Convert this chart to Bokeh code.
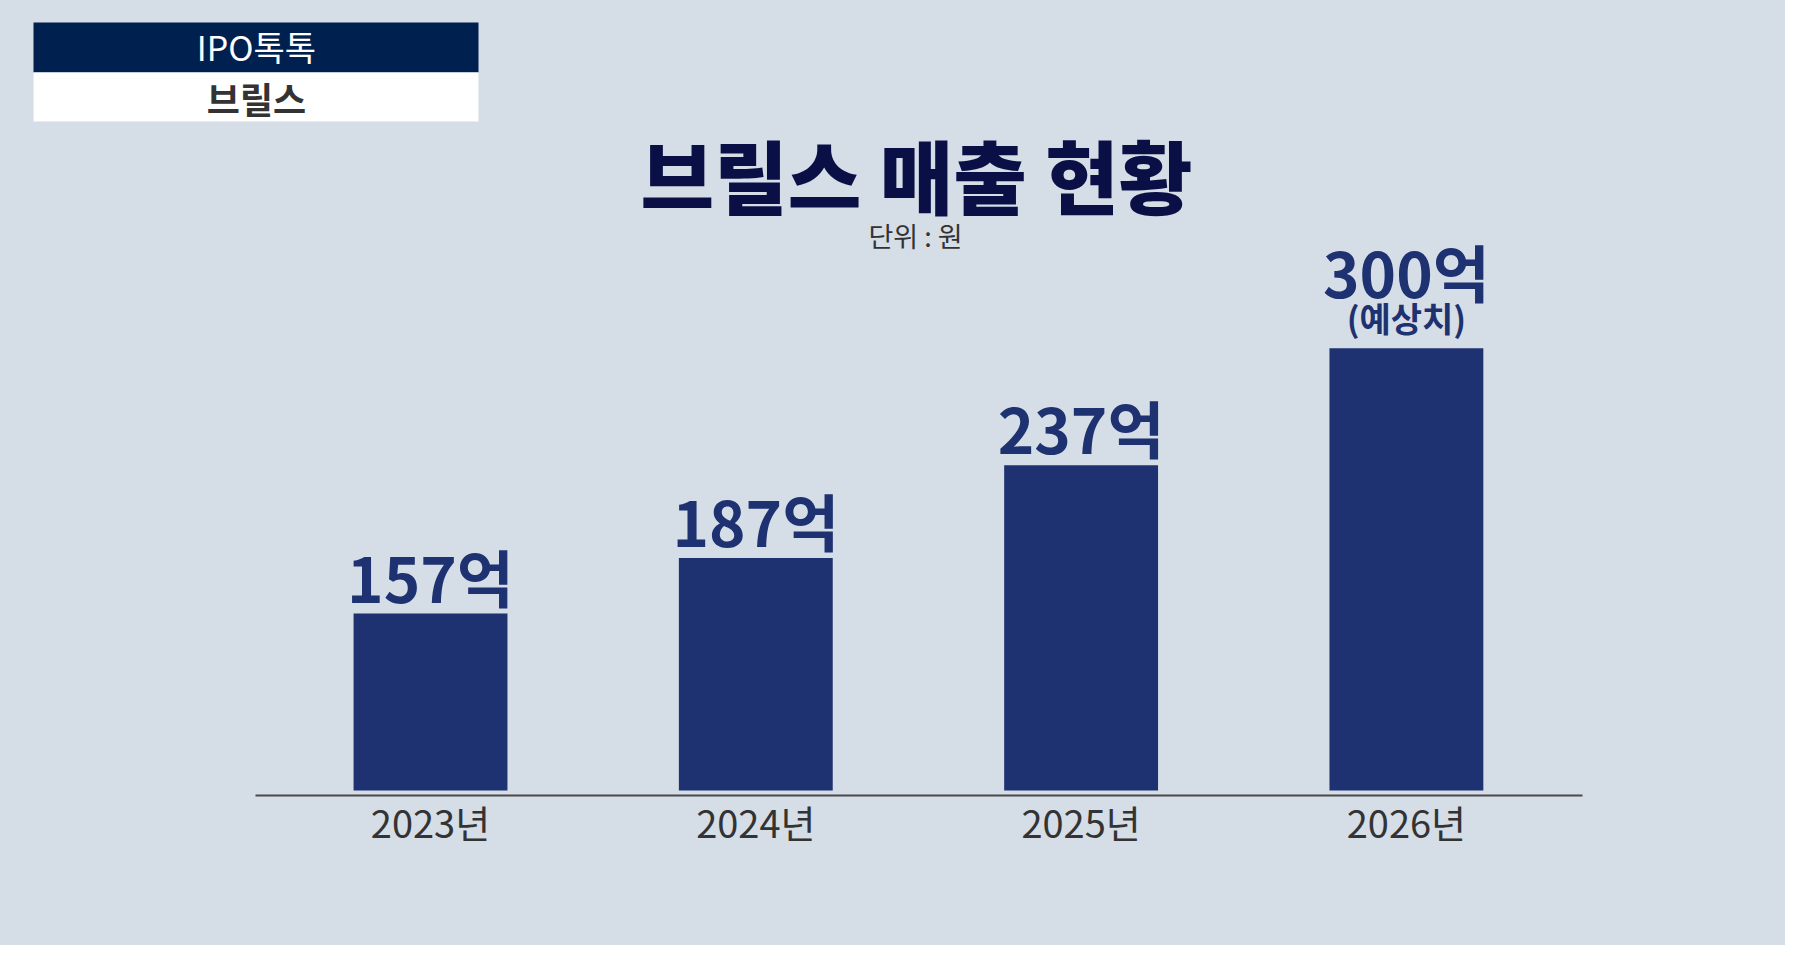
from bokeh.plotting import figure
from bokeh.models import Range1d, Label, BoxAnnotation, ColumnDataSource, FixedTicker
from bokeh.core.properties import value
from bokeh.embed import file_html
from bokeh.resources import INLINE

# ---- data ----
years = ["2023년", "2024년", "2025년", "2026년"]
sales = [157, 187, 237, 300]            # 억 원
notes = ["", "", "", "(예상치)"]
title_text = "브릴스 매출 현황"
unit_text = "단위 : 원"
header_top = "IPO톡톡"
header_bottom = "브릴스"

# ---- style ----
BG = "#d5dde7"
BAR = "#1e3170"
TITLE = "#0a0f46"
HEAD = "#00214f"
GREY = "#333333"
KR = "Noto Sans CJK KR"

W, H = 1785, 945
bottom_b = 150
FH = H - bottom_b          # frame height (frame spans full width)

pos = list(range(len(years)))

p = figure(width=W, height=H, x_range=Range1d(-1.3219, 4.1654),
           y_range=Range1d(58.85, 487.6), output_backend="svg", toolbar_location=None,
           y_axis_location=None, min_border_left=0, min_border_right=0,
           min_border_top=0, min_border_bottom=bottom_b)
p.background_fill_color = BG
p.border_fill_color = BG
p.outline_line_color = None
p.grid.visible = False
p.styles = {"background-color": BG}

labels = [f"{v}억" for v in sales]
offsets = [-38 - 39 * (n != "") for n in notes]
src = ColumnDataSource(dict(x=pos, top=sales, lab=labels, note=notes, off=offsets))

p.vbar(x="x", top="top", bottom=61.5, width=0.473, source=src,
       fill_color=BAR, line_color=None)
p.text(x="x", y="top", text="lab", y_offset="off", source=src,
       text_align="center", text_baseline="alphabetic",
       text_font=value(KR), text_font_style="bold", text_font_size="62px",
       text_color=BAR)
p.text(x="x", y="top", text="note", y_offset=-31, source=src,
       text_align="center", text_baseline="middle",
       text_font=value(KR), text_font_style="bold", text_font_size="34px",
       text_color=BAR)

ax = p.xaxis[0]
ax.ticker = FixedTicker(ticks=pos)
ax.major_label_overrides = {i: y for i, y in zip(pos, years)}
ax.bounds = (-0.538, 3.541)
ax.axis_line_color = "#4a4a4a"
ax.axis_line_width = 2
ax.major_tick_line_color = None
ax.minor_tick_line_color = None
ax.major_label_text_font = KR
ax.major_label_text_font_size = "38px"
ax.major_label_text_color = GREY
ax.major_label_standoff = -8

# header box and titles (frame-relative screen coordinates, y from the bottom)
p.add_layout(BoxAnnotation(left=33, right=478, top=FH - 22, bottom=FH - 72,
                           left_units="screen", right_units="screen",
                           top_units="screen", bottom_units="screen",
                           fill_color=HEAD, fill_alpha=1, line_color=None))
p.add_layout(BoxAnnotation(left=33, right=478, top=FH - 72, bottom=FH - 121,
                           left_units="screen", right_units="screen",
                           top_units="screen", bottom_units="screen",
                           fill_color="white", fill_alpha=1, line_color="#e6ebf1"))
p.add_layout(Label(x=256, y=FH - 46, x_units="screen", y_units="screen", text=header_top,
                   text_align="center", text_baseline="middle", text_font=KR,
                   text_font_size="34px", text_color="white"))
p.add_layout(Label(x=256, y=FH - 97, x_units="screen", y_units="screen", text=header_bottom,
                   text_align="center", text_baseline="middle", text_font=KR,
                   text_font_style="bold", text_font_size="36px", text_color=GREY))
p.add_layout(Label(x=916, y=FH - 172, x_units="screen", y_units="screen", text=title_text,
                   text_align="center", text_baseline="middle",
                   text_font="Noto Sans CJK KR Black, Noto Sans CJK KR",
                   text_font_style="bold", text_font_size="80px", text_color=TITLE))
p.add_layout(Label(x=915, y=FH - 235, x_units="screen", y_units="screen", text=unit_text,
                   text_align="center", text_baseline="middle", text_font=KR,
                   text_font_size="27px", text_color=GREY))

open("out.html", "w").write(file_html(p, INLINE))
